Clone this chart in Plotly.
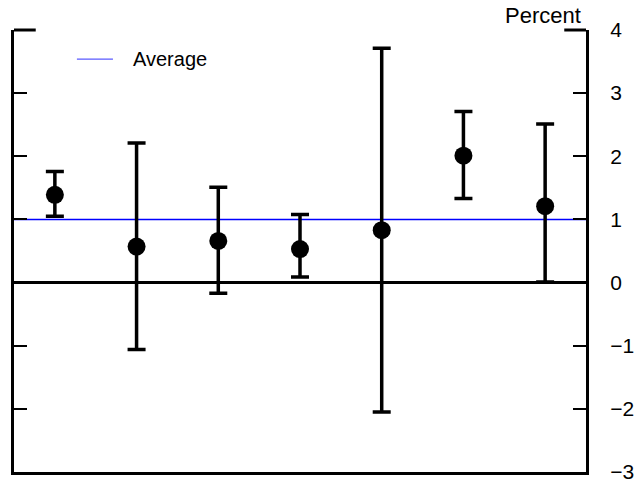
import plotly.graph_objects as go

# Data
categories = ["1", "2", "3", "4", "5", "6", "7"]
values = [1.39, 0.57, 0.66, 0.53, 0.83, 2.01, 1.21]
upper = [1.76, 2.21, 1.51, 1.08, 3.71, 2.71, 2.51]
lower = [1.05, -1.06, -0.17, 0.09, -2.05, 1.33, 0.01]
average = 1.0
y_ticks = [-3, -2, -1, 0, 1, 2, 3, 4]
legend_label = "Average"
axis_title = "Percent"

FONT = "Liberation Sans, Arial, Helvetica, sans-serif"

x_idx = list(range(len(categories)))
x_range = [-0.5, len(categories) - 0.5]

err_plus = [u - v for u, v in zip(upper, values)]
err_minus = [v - l for v, l in zip(values, lower)]

fig = go.Figure()

fig.add_trace(go.Scatter(
    x=x_range, y=[average, average], mode="lines",
    line=dict(color="#0000ff", width=1.6),
    name=legend_label, showlegend=False, hoverinfo="skip",
))

fig.add_trace(go.Scatter(
    x=x_idx, y=values, mode="markers",
    marker=dict(color="black", size=18),
    error_y=dict(type="data", symmetric=False, array=err_plus, arrayminus=err_minus,
                 color="black", thickness=3.5, width=9),
    showlegend=False, name="Estimate",
))

fig.update_xaxes(
    range=x_range, showticklabels=False, ticks="", showgrid=False, zeroline=False,
    showline=True, linecolor="black", linewidth=3, mirror=False, automargin=False,
)
fig.update_yaxes(
    range=[y_ticks[0], y_ticks[-1]], tickvals=y_ticks, side="right",
    ticks="inside", ticklen=13, tickwidth=2, tickcolor="black",
    showline=True, linecolor="black", linewidth=3, mirror="ticks",
    showgrid=False, zeroline=True, zerolinecolor="black", zerolinewidth=3,
    tickfont=dict(family=FONT, size=21, color="black"), ticklabelstandoff=17,
    ticklabeloverflow="allow", automargin=False,
)

# longer top corner ticks
for x0, x1 in [(0, 0.038), (0.962, 1)]:
    fig.add_shape(type="line", xref="paper", yref="paper", x0=x0, x1=x1, y0=1, y1=1,
                  line=dict(color="black", width=3))

# legend key (drawn manually to match the reference spacing)
fig.add_shape(type="line", xref="paper", yref="paper", x0=0.110, x1=0.173, y0=0.934, y1=0.934,
              line=dict(color="#5a5aff", width=1.3))
fig.add_annotation(
    text=legend_label, xref="paper", yref="paper", x=0.205, y=0.934, xanchor="left", yanchor="middle",
    showarrow=False, font=dict(family=FONT, size=20, color="black"),
)

fig.add_annotation(
    text=axis_title, xref="paper", yref="paper", x=1, y=1, xanchor="right", yanchor="bottom",
    xshift=-3, yshift=0, showarrow=False, font=dict(family=FONT, size=22, color="black"),
)

fig.update_layout(
    width=642, height=480,
    margin=dict(l=14, r=56, t=30, b=8, autoexpand=False),
    paper_bgcolor="white", plot_bgcolor="white",
    font=dict(family=FONT, color="black"),
    showlegend=False,
)

fig.write_html(
    "out.html",
    config={"displayModeBar": False},
    post_script="document.body.style.margin='0';document.body.style.overflow='hidden';",
)
